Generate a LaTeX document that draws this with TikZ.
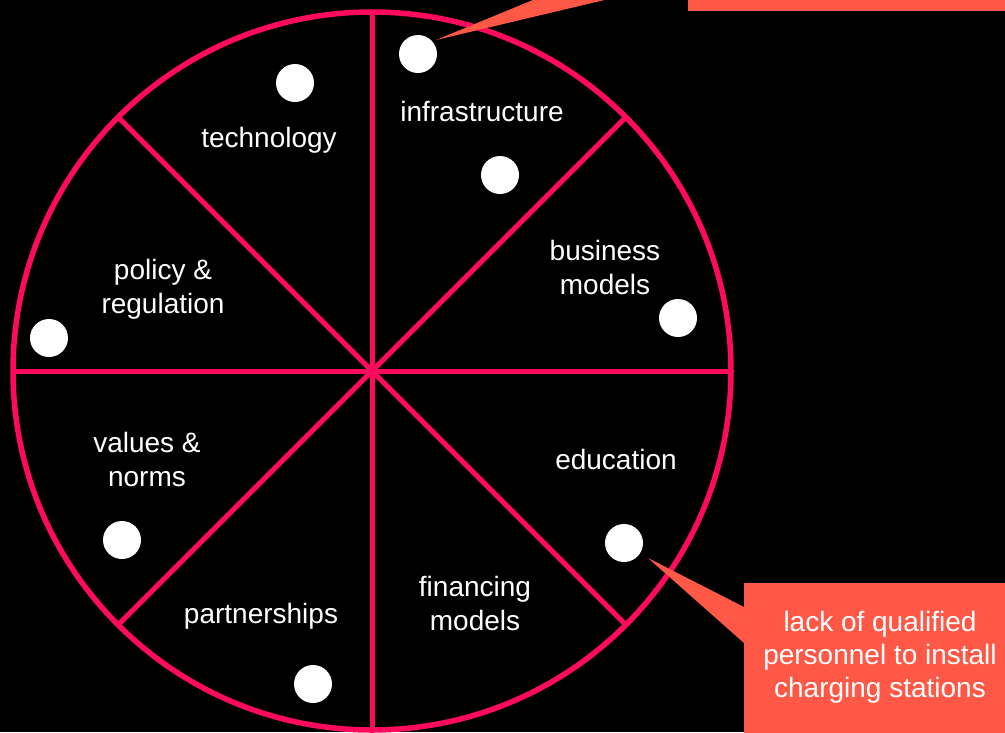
\documentclass[tikz,border=0pt]{standalone}
\usepackage{fontspec}
\setmainfont{Liberation Sans}
\definecolor{spoke}{RGB}{255,10,92}
\definecolor{callout}{RGB}{255,88,70}
\begin{document}
\begin{tikzpicture}[x=1pt,y=-1pt,
  wheel/.style={draw=spoke,line width=5.5pt},
  spokeline/.style={draw=spoke,line width=5pt},
  dot/.style={circle,fill=white,minimum size=38pt,inner sep=0pt},
  lbl/.style={text=white,font=\fontsize{28pt}{34pt}\selectfont,align=center,anchor=base,inner sep=0pt},
  box/.style={fill=callout},
  note/.style={text=white,font=\fontsize{28pt}{33pt}\selectfont,align=center,anchor=base,inner sep=0pt}]
\fill[black] (0,0) rectangle (1005,732);
\useasboundingbox (0,0) rectangle (1005,732);
\begin{scope}
\clip (0,0) rectangle (1005,732);
\coordinate (c) at (372,371);
\foreach \a in {0,45,...,315}{
  \draw[spokeline] (c) -- ++(\a:359);
}
\draw[wheel] (c) circle[radius=359];
% dots
\node[dot] (d1) at (295,83) {};
\node[dot] (d2) at (418,54) {};
\node[dot] (d3) at (500,175) {};
\node[dot] (d4) at (678,318) {};
\node[dot] (d5) at (49,338) {};
\node[dot] (d6) at (624,543) {};
\node[dot] (d7) at (122,540) {};
\node[dot] (d8) at (313,684) {};
% labels (base = baseline of last line)
\node[lbl] (tech) at (269,147) {technology};
\node[lbl] (infra) at (482,121) {infrastructure};
\node[lbl] (bus) at (605,294) {business\\models};
\node[lbl] (pol) at (163,313) {policy \&\\regulation};
\node[lbl] (val) at (147,486) {values \&\\norms};
\node[lbl] (edu) at (616,469) {education};
\node[lbl] (fin) at (475,630) {financing\\models};
\node[lbl] (part) at (261,623) {partnerships};
% top callout
\fill[box] (688,-40) rectangle (1010,10.7);
\coordinate (t1) at (436,40);
\fill[box] (t1) -- (620,-36) -- (756,-36) -- cycle;
% bottom callout
\node[box,anchor=north west,minimum width=270pt,minimum height=160pt,inner sep=0pt] (b2) at (744,583) {};
\coordinate (t2) at (648,558);
\fill[box] (t2) -- (b2.west |- 0,607) -- (b2.west |- 0,643) -- cycle;
\node[note] (n2) at (880,697) {lack of qualified\\personnel to install\\charging stations};
\end{scope}
\end{tikzpicture}
\end{document}
